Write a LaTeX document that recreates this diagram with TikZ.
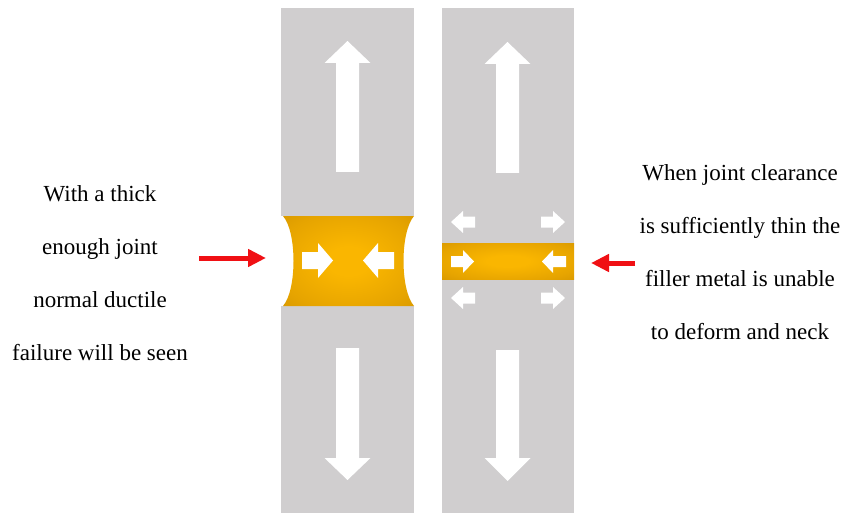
\documentclass[tikz,border=0pt]{standalone}
\usepackage{fontspec}
\setmainfont{Liberation Serif}
\usetikzlibrary{arrows.meta}
\definecolor{bargray}{RGB}{208,206,207}
\definecolor{goldin}{RGB}{250,182,0}
\definecolor{goldmid}{RGB}{230,164,0}
\definecolor{goldout}{RGB}{207,145,0}
\definecolor{goldedge}{RGB}{196,136,0}
\definecolor{pullred}{RGB}{240,16,20}
% soft glow for the filler metal
\pgfdeclareradialshading{fillerglow}{\pgfpoint{0bp}{0bp}}{%
  color(0bp)=(goldin); color(8bp)=(goldin); color(28bp)=(goldmid);
  color(44bp)=(goldout); color(72bp)=(goldedge)}
\tikzset{
  bar/.style={fill=bargray, draw=none},
  filler/.style={shading=fillerglow},
  blockarrow/.style={fill=white, draw=none},
  caption/.style={font=\fontsize{23}{53}\selectfont, align=center, inner sep=0pt},
  pointer/.style={draw=pullred, line width=5pt, -{Triangle[length=18pt,width=17pt]}}
}
\begin{document}
\begin{tikzpicture}[x=1pt,y=-1pt]
\useasboundingbox (0,0) rectangle (845,513);

% specimen bars
\fill[bar] (281,8) rectangle (414,513);
\fill[bar] (442,8) rectangle (574,513);

% thick joint: necked filler
\fill[white] (281,216) rectangle (414,306);
\shade[filler]
  (283,216) -- (414,216)
  .. controls (400,232) and (400,290) .. (414,306)
  -- (283,306)
  .. controls (297,290) and (297,232) .. (283,216) -- cycle;

% thin joint: flat filler layer
\shade[filler] (442,243) rectangle (574,279);

% load arrows, left bar
\fill[blockarrow] (336,172) -- (336,63) -- (324.5,63) -- (347.5,41) -- (370.5,63) -- (359,63) -- (359,172) -- cycle;
\fill[blockarrow] (336,348) -- (336,458) -- (324.5,458) -- (347.5,480) -- (370.5,458) -- (359,458) -- (359,348) -- cycle;
% load arrows, right bar
\fill[blockarrow] (496,173) -- (496,64) -- (484.5,64) -- (507.5,42) -- (530.5,64) -- (519,64) -- (519,173) -- cycle;
\fill[blockarrow] (496,350) -- (496,458) -- (484.5,458) -- (507.5,481) -- (530.5,458) -- (519,458) -- (519,350) -- cycle;

% constraint arrows in the thick joint
\fill[blockarrow] (302,252) -- (318,252) -- (318,243) -- (333,260.5) -- (318,278) -- (318,269) -- (302,269) -- cycle;
\fill[blockarrow] (394,252) -- (378,252) -- (378,243) -- (363,260.5) -- (378,278) -- (378,269) -- (394,269) -- cycle;

% constraint arrows in the thin joint
\fill[blockarrow] (451,256) -- (463,256) -- (463,250) -- (474,261.5) -- (463,273) -- (463,267) -- (451,267) -- cycle;
\fill[blockarrow] (566,256) -- (553,256) -- (553,250) -- (542,261.5) -- (553,273) -- (553,267) -- (566,267) -- cycle;
% lateral arrows above and below the thin joint
\foreach \yc in {222,298}{
  \fill[blockarrow] (475,\yc-5.5) -- (463,\yc-5.5) -- (463,\yc-11) -- (451,\yc) -- (463,\yc+11) -- (463,\yc+5.5) -- (475,\yc+5.5) -- cycle;
  \fill[blockarrow] (541,\yc-5.5) -- (553,\yc-5.5) -- (553,\yc-11) -- (565,\yc) -- (553,\yc+11) -- (553,\yc+5.5) -- (541,\yc+5.5) -- cycle;
}

% captions
\node[caption] (thick) at (100,273) {With a thick\\enough joint\\normal ductile\\failure will be seen};
\node[caption] (thin) at (740,252) {When joint clearance\\is sufficiently thin the\\filler metal is unable\\to deform and neck};

% pointers to the joints
\coordinate (lstart) at (199,258);
\coordinate (lend) at (266,258);
\coordinate (rstart) at (635,263);
\coordinate (rend) at (591,263);
\draw[pointer] (lstart) -- (lend);
\draw[pointer] (rstart) -- (rend);
\end{tikzpicture}
\end{document}
